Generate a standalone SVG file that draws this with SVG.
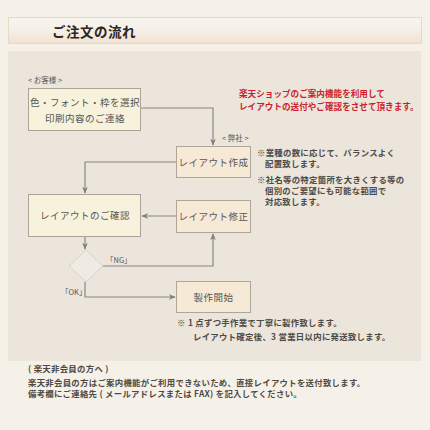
<svg xmlns="http://www.w3.org/2000/svg" width="430" height="430" viewBox="0 0 430 430">
<defs>
<linearGradient id="tg" x1="0" y1="0" x2="0" y2="1">
<stop offset="0" stop-color="#f7f3ee"/>
<stop offset="0.45" stop-color="#f6f0e9"/>
<stop offset="1" stop-color="#f1e1cf"/>
</linearGradient>
<marker id="ah" viewBox="0 0 10 10" refX="9" refY="5" markerWidth="7" markerHeight="7" orient="auto" markerUnits="userSpaceOnUse">
<path d="M0,1 L10,5 L0,9 L3,5 Z" fill="#7f7f7f"/>
</marker>
</defs>
<style>
.t{font-family:"Noto Sans CJK JP","Noto Sans",sans-serif;}
.bx{font-size:9.5px;fill:#555;letter-spacing:0.5px;text-anchor:middle;}
.y{fill:#f6f2dc;stroke:#a9a497;stroke-width:1;}
.p{fill:#f6ead7;stroke:#aea696;stroke-width:1;}
.n{font-size:8.4px;fill:#4e4a46;font-weight:bold;letter-spacing:0.3px;}
.r{font-size:8.6px;fill:#cc1d2c;font-weight:bold;}
.s{font-size:7.5px;fill:#5a5652;}
.c{fill:none;stroke:#888;stroke-width:1.2;}
</style>
<rect width="430" height="430" fill="#f6f1e8"/>
<rect x="8.5" y="17.5" width="413" height="26" fill="url(#tg)" stroke="#e6d9c8"/>
<text class="t" x="52" y="37" font-size="13.5" font-weight="bold" fill="#2a2522" letter-spacing="0.5">ご注文の流れ</text>
<rect x="8" y="51" width="413" height="310" fill="#ebe5dc"/>
<g id="connectors">
<path class="c" d="M141,108 H213 V145" marker-end="url(#ah)"/>
<path class="c" d="M176,162 H85 V193" marker-end="url(#ah)"/>
<path class="c" d="M176,216 H142" marker-end="url(#ah)"/>
<path class="c" d="M85,237 V249" marker-end="url(#ah)"/>
<path class="c" d="M103,266 H213 V234" marker-end="url(#ah)"/>
<path class="c" d="M85,282 V297 H175" marker-end="url(#ah)"/>
</g>
<text class="t s" x="28" y="83">&lt; お客様 &gt;</text>
<text class="t s" x="222" y="141">&lt; 弊社 &gt;</text>
<g id="n1">
<rect class="y" x="28.5" y="88.5" width="112" height="42"/>
<text class="t bx" x="85" y="106">色・フォント・枠を選択</text>
<text class="t bx" x="85" y="122">印刷内容のご連絡</text>
</g>
<g id="n2">
<rect class="p" x="176.5" y="146.5" width="74" height="31"/>
<text class="t bx" x="213.5" y="165.5">レイアウト作成</text>
</g>
<g id="n3">
<rect class="y" x="28.5" y="194.5" width="112" height="42"/>
<text class="t bx" x="85" y="219">レイアウトのご確認</text>
</g>
<g id="n4">
<rect class="p" x="176.5" y="200.5" width="74" height="32"/>
<text class="t bx" x="213.5" y="219.5">レイアウト修正</text>
</g>
<g id="n5">
<polygon points="86,250 103,266 86,282 69,266" fill="#efeae3" stroke="#d9d2c7" stroke-width="1"/>
</g>
<g id="n6">
<rect class="p" x="176.5" y="281.5" width="74" height="31"/>
<text class="t bx" x="213.5" y="300.5">製作開始</text>
</g>
<text class="t s" x="106" y="263" font-size="6.5">「NG」</text>
<text class="t s" x="61" y="295" font-size="6.5">「OK」</text>
<text class="t r"><tspan x="239" y="97">楽天ショップのご案内機能を利用して</tspan><tspan x="239" y="110">レイアウトの送付やご確認をさせて頂きます。</tspan></text>
<text class="t n"><tspan x="257" y="156">※業種の数に応じて、バランスよく</tspan><tspan x="265" y="167">配置致します。</tspan></text>
<text class="t n"><tspan x="257" y="183">※社名等の特定箇所を大きくする等の</tspan><tspan x="265" y="194">個別のご要望にも可能な範囲で</tspan><tspan x="265" y="205">対応致します。</tspan></text>
<text class="t n"><tspan x="177" y="326">※ 1 点ずつ手作業で丁寧に製作致します。</tspan><tspan x="193" y="340">レイアウト確定後、3 営業日以内に発送致します。</tspan></text>
<text class="t n"><tspan x="28" y="372">( 楽天非会員の方へ )</tspan><tspan x="28" y="386">楽天非会員の方はご案内機能がご利用できないため、直接レイアウトを送付致します。</tspan><tspan x="28" y="397">備考欄にご連絡先 ( メールアドレスまたは FAX) を記入してください。</tspan></text>
</svg>
